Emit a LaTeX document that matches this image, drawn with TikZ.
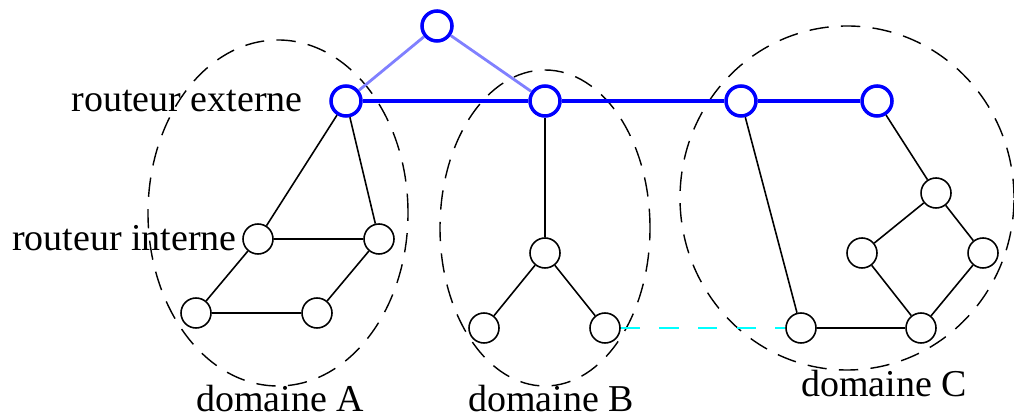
\documentclass[tikz,border=0pt]{standalone}
\usepackage{fontspec}
\setmainfont{Liberation Serif}
\usetikzlibrary{positioning}
\definecolor{interdom}{RGB}{0,255,255}

\begin{document}
\begin{tikzpicture}[
    rint/.style={circle, draw, line width=0.45pt, minimum size=0.3cm, inner sep=0pt},
    rext/.style={circle, draw=blue, line width=1pt, minimum size=0.3cm, inner sep=0pt},
    lien/.style={line width=0.45pt},
    dorsale/.style={blue, line width=1pt},
    montee/.style={blue!50, line width=0.8pt},
    domaine/.style={dash pattern=on 5.5pt off 3.5pt, line width=0.4pt},
    every node/.style={font=\fontsize{10.8}{13}\selectfont}
]
    \useasboundingbox (0,0) rectangle (10.14,4.16);

    % domaines
    \draw[domaine] (2.78,2.03) ellipse [x radius=1.30, y radius=1.73];
    \draw[domaine] (5.45,1.88) ellipse [x radius=1.05, y radius=1.58];
    \draw[domaine] (8.47,2.18) ellipse [x radius=1.67, y radius=1.72];

    % routeurs externes
    \node[rext] (t) at (4.37, 3.90) {};
    \node[rext] (e1) at (3.46, 3.15) {};
    \node[rext] (e2) at (5.45, 3.15) {};
    \node[rext] (e3) at (7.41, 3.15) {};
    \node[rext] (e4) at (8.77, 3.15) {};

    % domaine A
    \node[rint] (a1) at (2.58, 1.77) {};
    \node[rint] (a2) at (3.79, 1.77) {};
    \node[rint] (a3) at (1.96, 1.03) {};
    \node[rint] (a4) at (3.17, 1.03) {};

    % domaine B
    \node[rint] (b1) at (5.45, 1.63) {};
    \node[rint] (b2) at (4.84, 0.88) {};
    \node[rint] (b3) at (6.05, 0.88) {};

    % domaine C
    \node[rint] (c1) at (8.01, 0.88) {};
    \node[rint] (c2) at (9.21, 0.88) {};
    \node[rint] (c3) at (9.36, 2.23) {};
    \node[rint] (c4) at (8.62, 1.63) {};
    \node[rint] (c5) at (9.83, 1.63) {};

    % textes
    \node[anchor=east] (lext) at (3.15, 3.15) {routeur externe};
    \node[anchor=east] (lint) at (2.49, 1.78) {routeur interne};
    \node[anchor=base] (da) at (2.80, 0.04) {domaine A};
    \node[anchor=base] (db) at (5.51, 0.04) {domaine B};
    \node[anchor=base] (dc) at (8.84, 0.19) {domaine C};

    % liens
    \draw[montee] (t) -- (e1);
    \draw[montee] (t) -- (e2);
    \draw[dorsale] (e1) -- (e2) -- (e3) -- (e4);

    \draw[lien] (e1) -- (a1);
    \draw[lien] (e1) -- (a2);
    \draw[lien] (a1) -- (a2);
    \draw[lien] (a1) -- (a3);
    \draw[lien] (a2) -- (a4);
    \draw[lien] (a3) -- (a4);

    \draw[lien] (e2) -- (b1);
    \draw[lien] (b1) -- (b2);
    \draw[lien] (b1) -- (b3);

    \draw[lien] (e3) -- (c1);
    \draw[lien] (c1) -- (c2);
    \draw[lien] (e4) -- (c3);
    \draw[lien] (c3) -- (c4);
    \draw[lien] (c3) -- (c5);
    \draw[lien] (c4) -- (c2);
    \draw[lien] (c5) -- (c2);

    \draw[interdom, line width=0.7pt, dash pattern=on 5.5pt off 5.5pt] (b3) -- (c1);
\end{tikzpicture}
\end{document}
